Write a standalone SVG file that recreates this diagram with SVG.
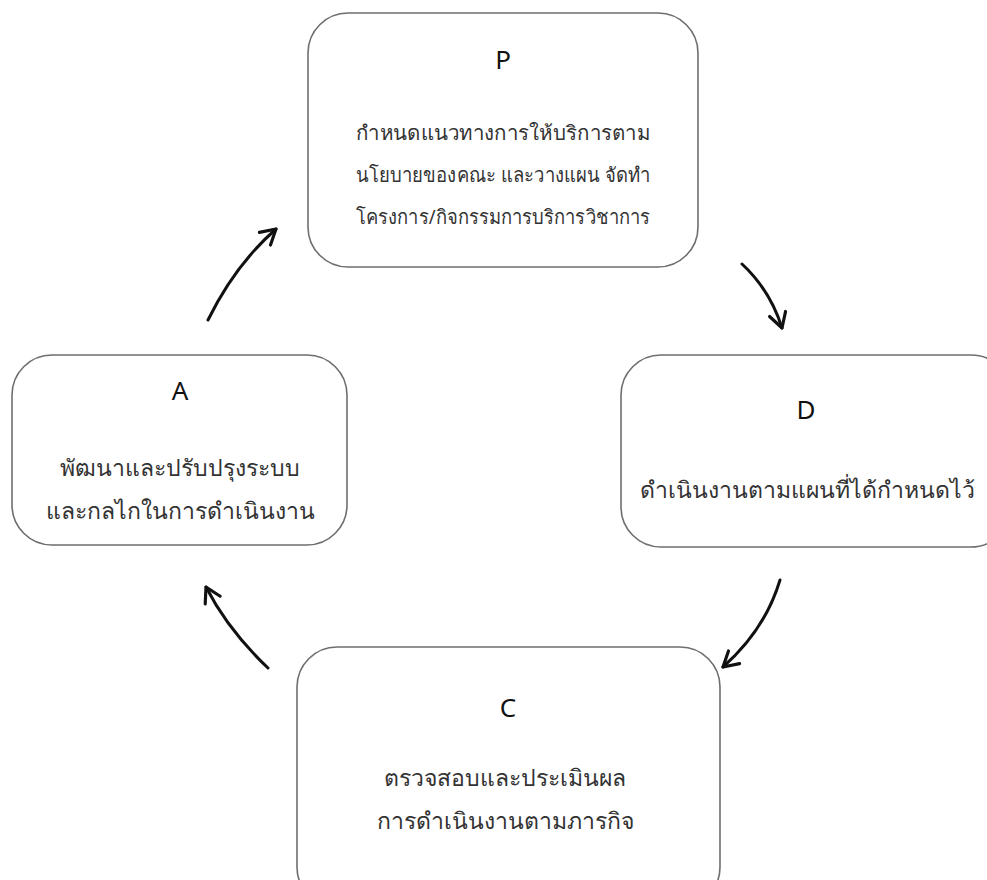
<svg xmlns="http://www.w3.org/2000/svg" width="987" height="880" viewBox="0 0 987 880">
<style>
.box{fill:#fff;stroke:#6e6e6e;stroke-width:1.6}
.t{font-family:"Noto Sans","DejaVu Sans",sans-serif;fill:#333;text-anchor:middle}
.h{font-size:26px;fill:#111}
.b{font-size:23px}
.bp{font-size:20px}
.arr{fill:none;stroke:#111;stroke-width:3;stroke-linecap:round;marker-end:url(#ah)}
</style>
<defs>
<marker id="ah" viewBox="0 0 20 20" refX="17" refY="10" markerWidth="7" markerHeight="7" orient="auto" markerUnits="strokeWidth">
<path d="M3,2 L17,10 L3,18" fill="none" stroke="#111" stroke-width="3" stroke-linecap="round" stroke-linejoin="round"/>
</marker>
</defs>
<rect width="987" height="880" fill="#fff"/>
<g id="node-P">
<rect class="box" x="308" y="13" width="390" height="254" rx="40"/>
<text class="t h" x="503" y="69">P</text>
<text class="t bp" x="503" y="140" textLength="294" lengthAdjust="spacingAndGlyphs">กำหนดแนวทางการให้บริการตาม</text>
<text class="t bp" x="503" y="182" textLength="294" lengthAdjust="spacingAndGlyphs">นโยบายของคณะ และวางแผน จัดทำ</text>
<text class="t bp" x="503" y="224" textLength="294" lengthAdjust="spacingAndGlyphs">โครงการ/กิจกรรมการบริการวิชาการ</text>
</g>
<g id="node-D">
<rect class="box" x="621" y="355" width="390" height="192" rx="40"/>
<text class="t h" x="806" y="419">D</text>
<text class="t b" x="807" y="498">ดำเนินงานตามแผนที่ได้กำหนดไว้</text>
</g>
<g id="node-A">
<rect class="box" x="12" y="355" width="335" height="190" rx="40"/>
<text class="t h" x="180" y="400">A</text>
<text class="t b" x="180" y="476">พัฒนาและปรับปรุงระบบ</text>
<text class="t b" x="180" y="519">และกลไกในการดำเนินงาน</text>
</g>
<g id="node-C">
<rect class="box" x="297" y="647" width="423" height="260" rx="40"/>
<text class="t h" x="508" y="717">C</text>
<text class="t b" x="505" y="786">ตรวจสอบและประเมินผล</text>
<text class="t b" x="505" y="829">การดำเนินงานตามภารกิจ</text>
</g>
<g id="connectors">
<path class="arr" d="M208,320 Q235,265 276,229"/>
<path class="arr" d="M742,264 Q770,290 782,328"/>
<path class="arr" d="M780,580 Q765,630 723,667"/>
<path class="arr" d="M268,668 Q228,630 206,587"/>
</g>
</svg>
